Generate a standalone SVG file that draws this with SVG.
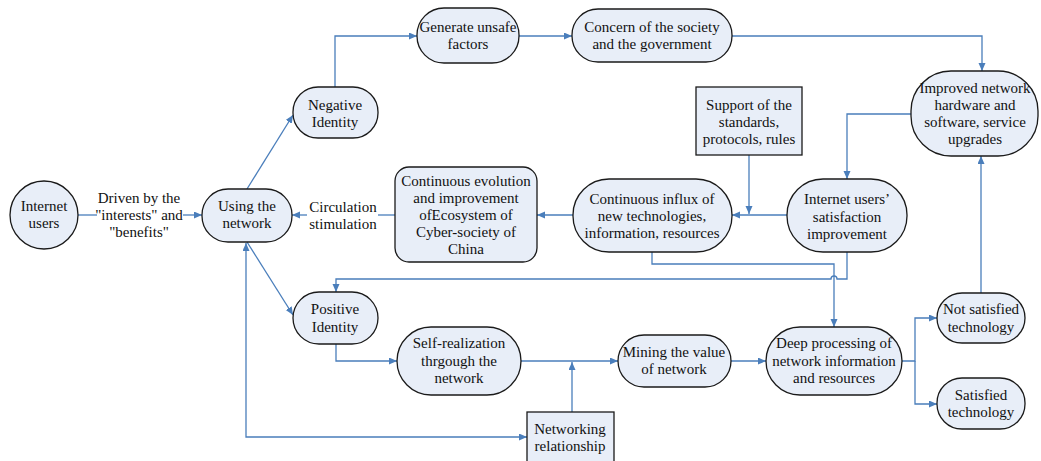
<svg xmlns="http://www.w3.org/2000/svg" width="1041" height="461" viewBox="0 0 1041 461">
  <style>
    .node { fill: #e8eef8; stroke: #1a1a1a; stroke-width: 1.3; }
    .label { font-family: "Liberation Serif", "Times New Roman", serif; font-size: 15px; fill: #111; text-anchor: middle; }
    .conn { fill: none; stroke: #4a7ebb; stroke-width: 1.3; }
    .arrow { marker-end: url(#head); }
  </style>
  <defs>
    <marker id="head" markerUnits="userSpaceOnUse" markerWidth="9" markerHeight="8" refX="8" refY="3.5" orient="auto-start-reverse">
      <path d="M0,0 L8,3.5 L0,7 z" fill="#4a7ebb"/>
    </marker>
  </defs>
  <rect width="1041" height="461" fill="#ffffff"/>

  <!-- connectors -->
  <g id="connectors">
    <path class="conn" d="M78,215 H97"/>
    <path class="conn arrow" d="M183,215 H202"/>
    <path class="conn arrow" d="M247,189 L293,115"/>
    <path class="conn arrow" d="M335,87 V36 H417"/>
    <path class="conn arrow" d="M519,36 H572"/>
    <path class="conn arrow" d="M732,36 H982 V71"/>
    <path class="conn arrow" d="M911,114 H847 V179"/>
    <path class="conn arrow" d="M749,155 V214"/>
    <path class="conn arrow" d="M787,215 H732"/>
    <path class="conn arrow" d="M573,215 H537"/>
    <path class="conn" d="M395,215 H378"/>
    <path class="conn arrow" d="M307,215 H292"/>
    <path class="conn arrow" d="M247,242 L293,315"/>
    <path class="conn arrow" d="M246,243 V437 H527" style="marker-start:url(#head)"/>
    <path class="conn arrow" d="M336,344 V361 H397"/>
    <path class="conn arrow" d="M521,361 H618"/>
    <path class="conn arrow" d="M572,412 V362"/>
    <path class="conn arrow" d="M731,361 H766"/>
    <path class="conn arrow" d="M902,361 H915 V318 H937"/>
    <path class="conn arrow" d="M915,361 V404 H937"/>
    <path class="conn arrow" d="M981,293 V156"/>
    <path class="conn arrow" d="M652,252 V264 H834 V327"/>
    <path class="conn arrow" d="M847,252 V279 H837 A3,3 0 0 0 831,279 H336 V292"/>
  </g>

  <!-- edge labels -->
  <text class="label"><tspan x="139" y="203">Driven by the</tspan><tspan x="139" y="220">"interests" and</tspan><tspan x="139" y="237">"benefits"</tspan></text>
  <text class="label"><tspan x="343" y="212">Circulation</tspan><tspan x="343" y="229">stimulation</tspan></text>

  <g id="internet-users">
    <circle class="node" cx="44" cy="215" r="34"/>
    <text class="label"><tspan x="44" y="211">Internet</tspan><tspan x="44" y="228">users</tspan></text>
  </g>
  <g id="using-network">
    <rect class="node" x="202" y="189" width="90" height="53" rx="26"/>
    <text class="label"><tspan x="247" y="211">Using the</tspan><tspan x="247" y="228">network</tspan></text>
  </g>
  <g id="negative-identity">
    <rect class="node" x="293" y="87" width="85" height="51" rx="25"/>
    <text class="label"><tspan x="335" y="110">Negative</tspan><tspan x="335" y="127">Identity</tspan></text>
  </g>
  <g id="unsafe-factors">
    <rect class="node" x="417" y="8" width="102" height="55" rx="27"/>
    <text class="label"><tspan x="468" y="32">Generate unsafe</tspan><tspan x="468" y="49">factors</tspan></text>
  </g>
  <g id="concern">
    <rect class="node" x="572" y="9" width="160" height="53" rx="26"/>
    <text class="label"><tspan x="652" y="32">Concern of the society</tspan><tspan x="652" y="49">and the government</tspan></text>
  </g>
  <g id="improved-network">
    <rect class="node" x="911" y="71" width="127" height="85" rx="40"/>
    <text class="label"><tspan x="975" y="93">Improved network</tspan><tspan x="975" y="110">hardware and</tspan><tspan x="975" y="127">software, service</tspan><tspan x="975" y="144">upgrades</tspan></text>
  </g>
  <g id="support">
    <rect class="node" x="696" y="87" width="106" height="68"/>
    <text class="label"><tspan x="749" y="110">Support of the</tspan><tspan x="749" y="127">standards,</tspan><tspan x="749" y="144">protocols, rules</tspan></text>
  </g>
  <g id="satisfaction">
    <rect class="node" x="787" y="179" width="120" height="73" rx="36"/>
    <text class="label"><tspan x="847" y="204">Internet users’</tspan><tspan x="847" y="222">satisfaction</tspan><tspan x="847" y="239">improvement</tspan></text>
  </g>
  <g id="influx">
    <rect class="node" x="573" y="179" width="159" height="73" rx="36"/>
    <text class="label"><tspan x="652" y="204">Continuous influx of</tspan><tspan x="652" y="221">new technologies,</tspan><tspan x="652" y="238">information, resources</tspan></text>
  </g>
  <g id="evolution">
    <rect class="node" x="395" y="167" width="142" height="95" rx="14"/>
    <text class="label"><tspan x="466" y="186">Continuous evolution</tspan><tspan x="466" y="203">and improvement</tspan><tspan x="466" y="220">ofEcosystem of</tspan><tspan x="466" y="237">Cyber-society of</tspan><tspan x="466" y="254">China</tspan></text>
  </g>
  <g id="positive-identity">
    <rect class="node" x="293" y="292" width="85" height="52" rx="26"/>
    <text class="label"><tspan x="335" y="314">Positive</tspan><tspan x="335" y="332">Identity</tspan></text>
  </g>
  <g id="self-realization">
    <rect class="node" x="397" y="327" width="124" height="68" rx="34"/>
    <text class="label"><tspan x="459" y="348">Self-realization</tspan><tspan x="459" y="366">thrgough the</tspan><tspan x="459" y="383">network</tspan></text>
  </g>
  <g id="networking">
    <rect class="node" x="527" y="412" width="87" height="60"/>
    <text class="label"><tspan x="570" y="434">Networking</tspan><tspan x="570" y="451">relationship</tspan></text>
  </g>
  <g id="mining">
    <rect class="node" x="618" y="335" width="113" height="52" rx="26"/>
    <text class="label"><tspan x="674" y="357">Mining the value</tspan><tspan x="674" y="374">of network</tspan></text>
  </g>
  <g id="deep-processing">
    <rect class="node" x="766" y="327" width="136" height="68" rx="34"/>
    <text class="label"><tspan x="834" y="348">Deep processing of</tspan><tspan x="834" y="366">network information</tspan><tspan x="834" y="383">and resources</tspan></text>
  </g>
  <g id="not-satisfied">
    <rect class="node" x="937" y="293" width="88" height="50" rx="25"/>
    <text class="label"><tspan x="981" y="314">Not satisfied</tspan><tspan x="981" y="332">technology</tspan></text>
  </g>
  <g id="satisfied">
    <rect class="node" x="937" y="378" width="88" height="51" rx="25"/>
    <text class="label"><tspan x="981" y="400">Satisfied</tspan><tspan x="981" y="417">technology</tspan></text>
  </g>
</svg>
